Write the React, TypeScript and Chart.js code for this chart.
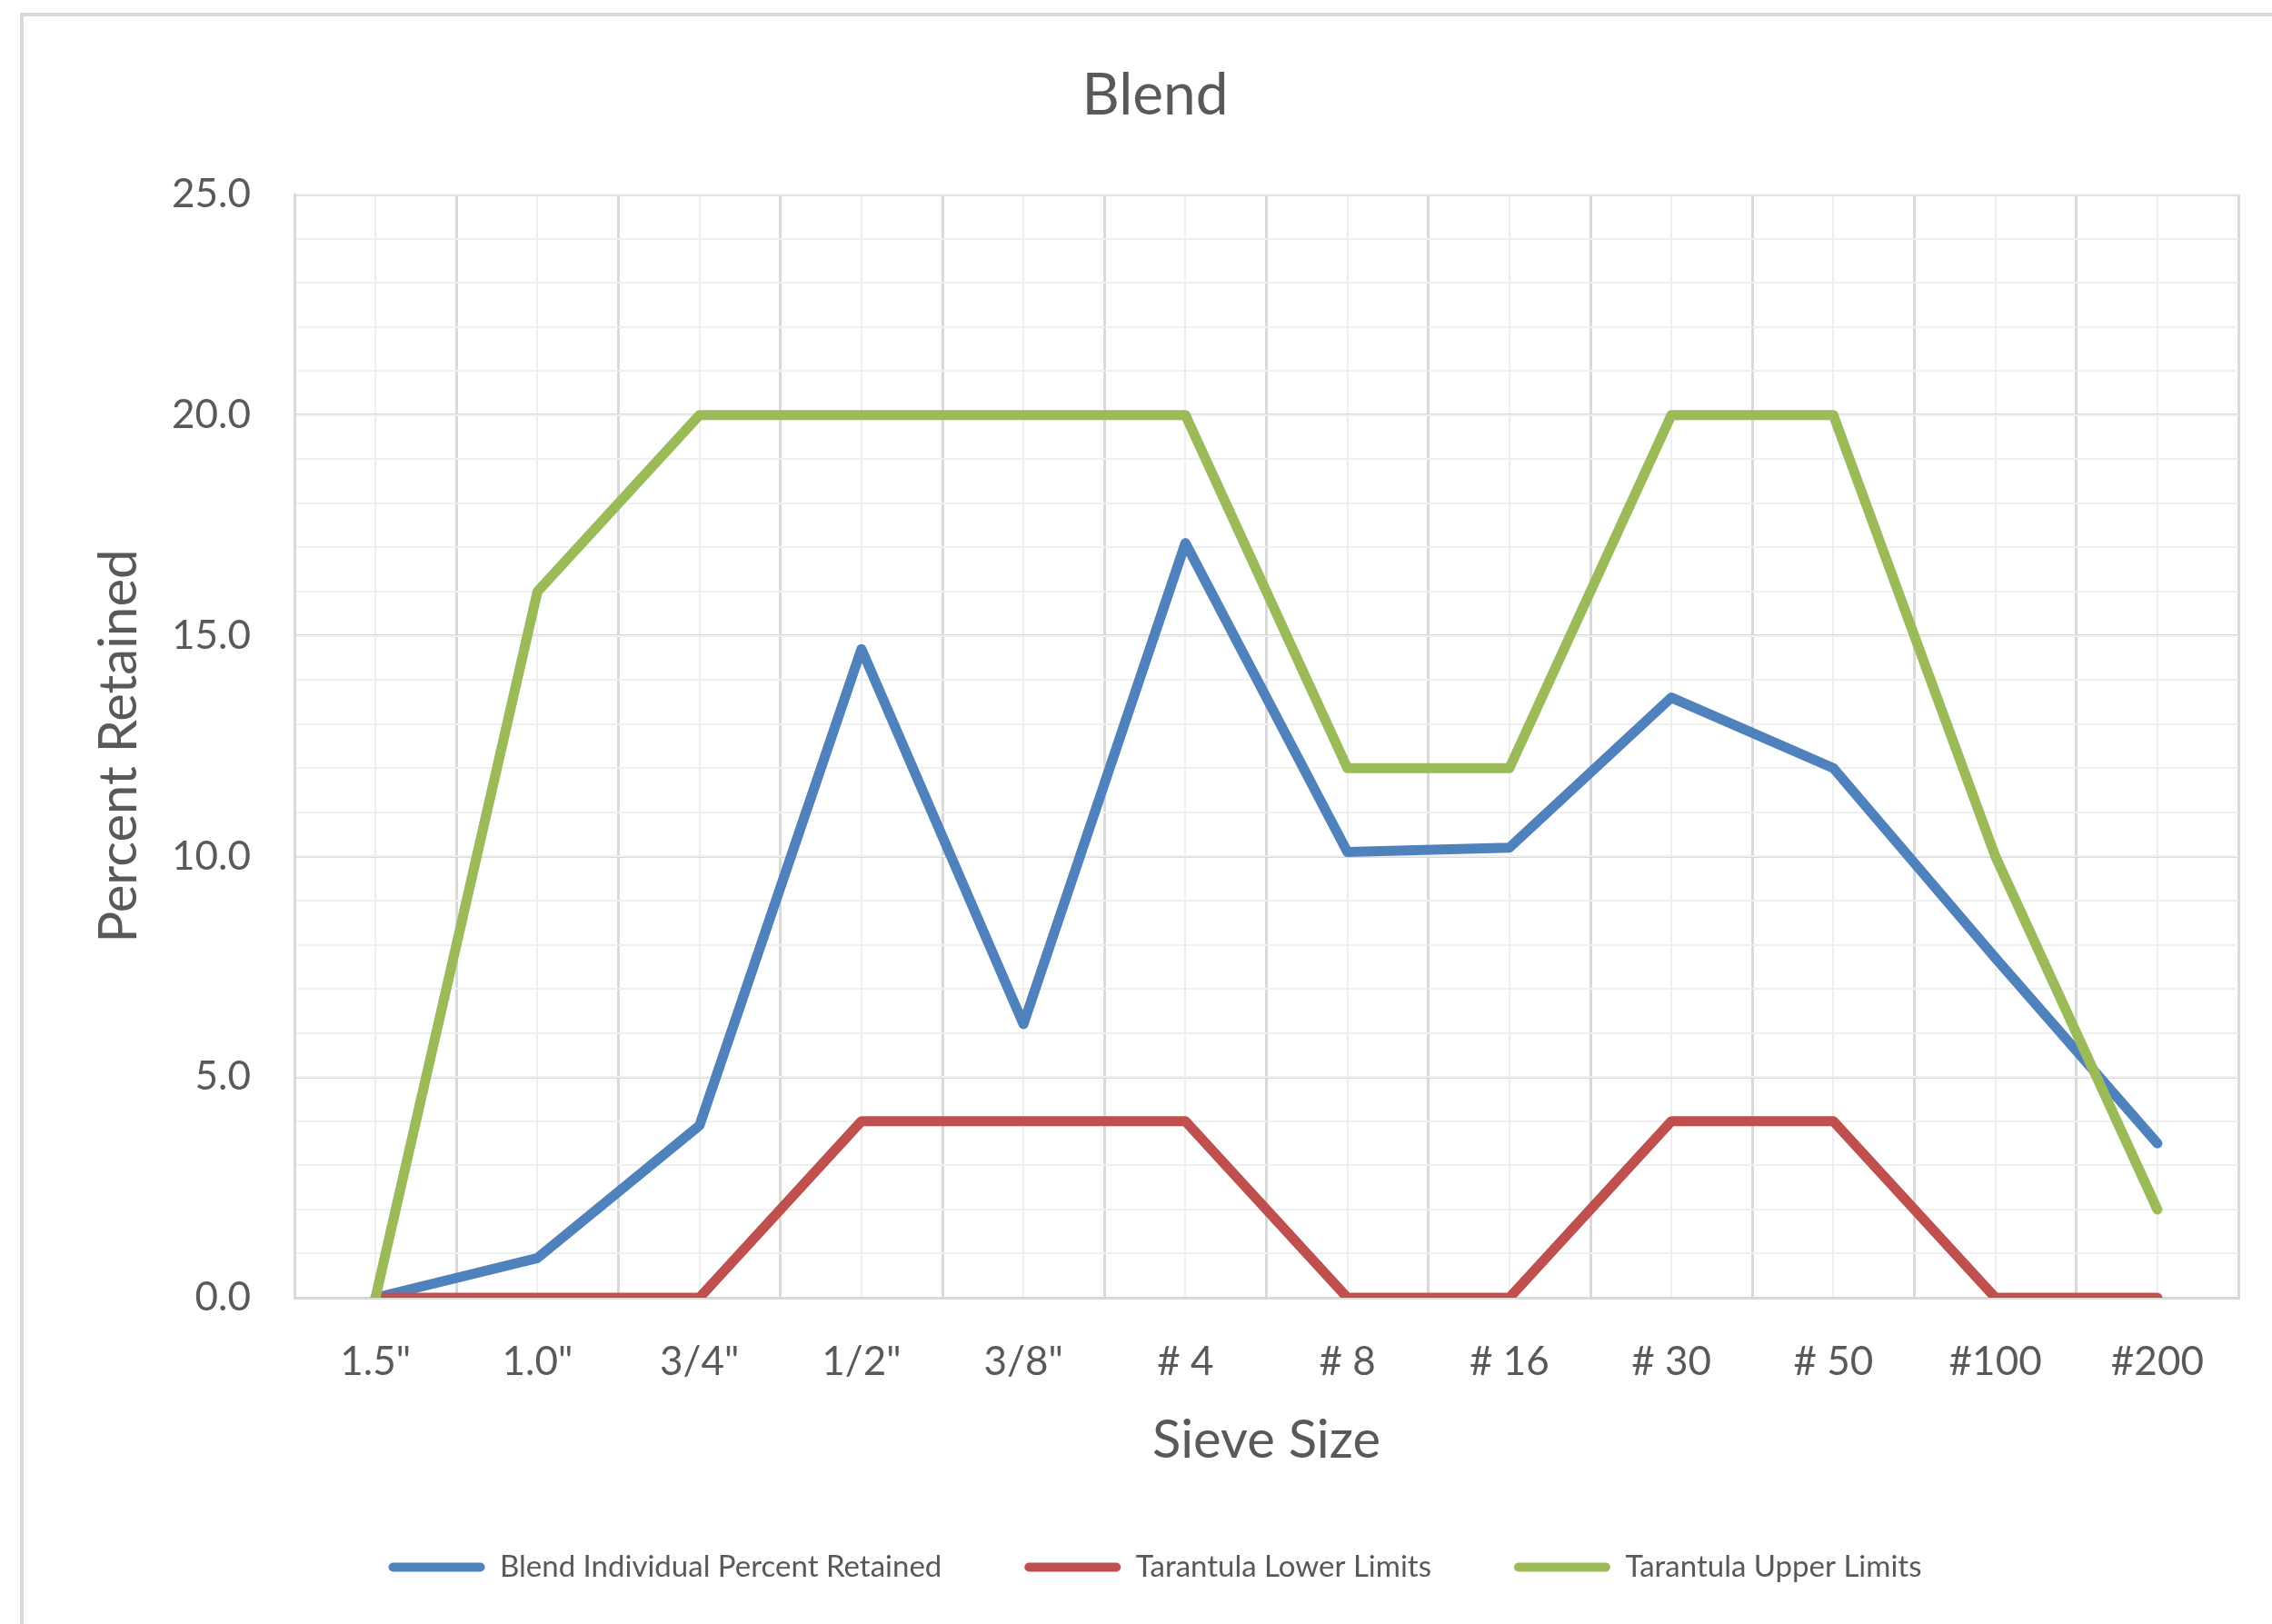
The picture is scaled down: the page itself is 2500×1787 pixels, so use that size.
import React, { useEffect, useRef } from "react";
import { Chart, registerables } from "chart.js";

Chart.register(...registerables);

// Sieve sizes along the x axis
const sieveSizes = ['1.5"', '1.0"', '3/4"', '1/2"', '3/8"', "# 4", "# 8", "# 16", "# 30", "# 50", "#100", "#200"];

// Percent retained on each sieve
const blendRetained = [0, 0.9, 3.9, 14.7, 6.2, 17.1, 10.1, 10.2, 13.6, 12.0, 7.7, 3.5];
const lowerLimits = [0, 0, 0, 4, 4, 4, 0, 0, 4, 4, 0, 0];
const upperLimits = [0, 16, 20, 20, 20, 20, 12, 12, 20, 20, 10, 2];

const seriesNames = ["Blend Individual Percent Retained", "Tarantula Lower Limits", "Tarantula Upper Limits"];
const seriesColors = ["#4f81bd", "#c0504d", "#9bbb59"];

const W = 2500;
const H = 1787;
const TEXT = "#595959";
const MAJOR = "#d9d9d9";
const MINOR = "#efefef";
const FONT = "Lato, 'Open Sans', sans-serif";

const framePlugin = {
  id: "frame",
  beforeDraw(chart: any) {
    const { ctx, width, height } = chart;
    ctx.save();
    ctx.fillStyle = "#ffffff";
    ctx.fillRect(0, 0, width, height);
    ctx.strokeStyle = MAJOR;
    ctx.lineWidth = 4;
    ctx.beginPath();
    ctx.moveTo(24, 14);
    ctx.lineTo(24, height);
    ctx.moveTo(22, 16);
    ctx.lineTo(width, 16);
    ctx.stroke();
    ctx.restore();
  },
};

export default function App() {
  const ref = useRef<HTMLCanvasElement | null>(null);

  useEffect(() => {
    if (!ref.current) return;
    Chart.defaults.font.family = FONT;
    const makeSet = (i: number, data: number[], order: number) => ({
      label: seriesNames[i],
      data,
      borderColor: seriesColors[i],
      backgroundColor: seriesColors[i],
      borderWidth: 11,
      borderCapStyle: "round",
      borderJoinStyle: "round",
      pointRadius: 0,
      tension: 0,
      fill: false,
      order,
      xAxisID: "x",
      yAxisID: "y",
    });

    const chart = new Chart(ref.current, {
      type: "line",
      data: {
        labels: sieveSizes,
        datasets: [
          makeSet(0, blendRetained, 3),
          makeSet(1, lowerLimits, 2),
          makeSet(2, upperLimits, 1),
        ] as any,
      },
      plugins: [framePlugin],
      options: {
        animation: false,
        responsive: false,
        devicePixelRatio: 1,
        layout: { padding: { left: 79, right: 37, top: 0, bottom: 36 } },
        plugins: {
          title: {
            display: true,
            text: "Blend",
            color: TEXT,
            font: { size: 64, weight: "normal", lineHeight: 1, family: FONT },
            padding: { top: 73, bottom: 77 },
          },
          legend: {
            position: "bottom",
            labels: {
              color: TEXT,
              font: { size: 33, family: FONT },
              boxWidth: 106,
              boxHeight: 10,
              padding: 91,
              sort: (a: any, b: any) => a.datasetIndex - b.datasetIndex,
              generateLabels: (c: any) =>
                Chart.defaults.plugins.legend.labels.generateLabels(c).map((item: any) => ({
                  ...item,
                  fillStyle: seriesColors[item.datasetIndex],
                  strokeStyle: seriesColors[item.datasetIndex],
                  lineWidth: 0,
                  borderRadius: 5,
                })),
            },
          },
          tooltip: { enabled: false },
        },
        scales: {
          x: {
            type: "category",
            position: "bottom",
            offset: true,
            grid: { offset: true, color: MAJOR, lineWidth: 3, drawTicks: false },
            border: { color: MAJOR, width: 3 },
            ticks: {
              color: TEXT,
              font: { size: 44, family: FONT },
              padding: 44,
              maxRotation: 0,
              autoSkip: false,
            },
            title: {
              display: true,
              text: "Sieve Size",
              color: TEXT,
              font: { size: 58, lineHeight: 1, family: FONT },
              padding: { top: 0, bottom: 3 },
            },
            afterFit: (s: any) => {
              s.height = 189;
            },
          },
          xMinor: {
            type: "category",
            position: "bottom",
            offset: true,
            z: -1,
            grid: { offset: false, color: MINOR, lineWidth: 2, drawTicks: false },
            border: { display: false },
            ticks: { display: false },
            afterFit: (s: any) => {
              s.height = 0;
            },
          },
          y: {
            type: "linear",
            position: "left",
            min: 0,
            max: 25,
            grid: { color: MAJOR, lineWidth: 3, drawTicks: false },
            border: { color: MAJOR, width: 3 },
            ticks: {
              stepSize: 5,
              color: TEXT,
              font: { size: 44, family: FONT },
              padding: 48,
              callback: (v: any) => Number(v).toFixed(1),
            },
            title: {
              display: true,
              text: "Percent Retained",
              color: TEXT,
              font: { size: 58, lineHeight: 1, family: FONT },
              padding: { top: 23, bottom: 0 },
            },
            afterFit: (s: any) => {
              s.width = 245;
            },
          },
          yMinor: {
            type: "linear",
            position: "left",
            min: 0,
            max: 25,
            z: -1,
            grid: { color: MINOR, lineWidth: 2, drawTicks: false },
            border: { display: false },
            ticks: { display: false, stepSize: 1 },
            afterFit: (s: any) => {
              s.width = 0;
            },
          },
        },
      } as any,
    });
    return () => chart.destroy();
  }, []);

  return (
    <div style={{ position: "fixed", left: 0, top: 0, width: W, height: H, background: "#fff" }}>
      <canvas ref={ref} width={W} height={H} style={{ width: W, height: H, display: "block" }} />
    </div>
  );
}
